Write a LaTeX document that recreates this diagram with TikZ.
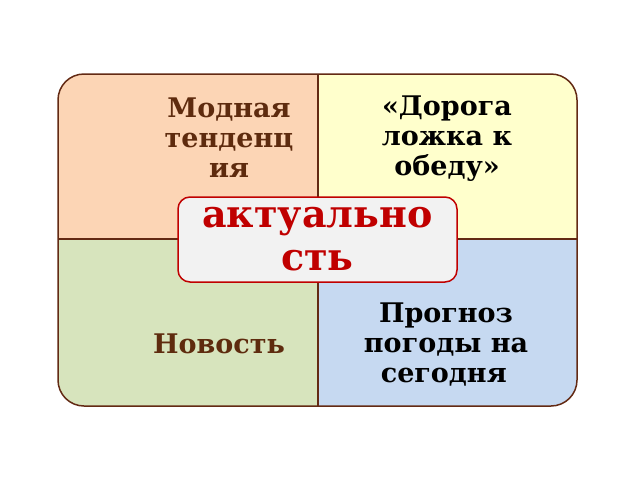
\documentclass[tikz,border=0pt]{standalone}
\usepackage{fontspec}
\setmainfont{DejaVu Serif}
\definecolor{frame}{HTML}{632A14}
\definecolor{textbrown}{HTML}{5E2B0E}
\definecolor{peach}{HTML}{FCD5B5}
\definecolor{lemon}{HTML}{FFFFCC}
\definecolor{sage}{HTML}{D7E4BD}
\definecolor{sky}{HTML}{C6D9F1}
\definecolor{crimson}{HTML}{C00000}
\definecolor{paper}{HTML}{F2F2F2}
\begin{document}
\begin{tikzpicture}[x=1pt,y=-1pt,
  lbl/.style={font=\bfseries\fontsize{27}{30}\selectfont, align=center, anchor=base, inner sep=0pt},
  keyword/.style={font=\bfseries\fontsize{38}{42}\selectfont, align=center, text=crimson,
    fill=paper, draw=crimson, line width=1.5pt, rounded corners=12pt,
    minimum width=279pt, minimum height=85pt, inner sep=0pt}]
\useasboundingbox (0,0) rectangle (640,480);
% quadrants
\begin{scope}
\clip[rounded corners=26pt] (58,74) rectangle (577,406);
\fill[peach] (58,74) rectangle (318,239);
\fill[lemon] (318,74) rectangle (577,239);
\fill[sage] (58,239) rectangle (318,406);
\fill[sky] (318,239) rectangle (577,406);
\end{scope}
% frame and cross
\draw[frame, line width=1.5pt, rounded corners=26pt] (58,74) rectangle (577,406);
\coordinate (top) at (318,74);
\coordinate (bot) at (318,406);
\coordinate (left) at (58,239);
\coordinate (right) at (577,239);
\draw[frame, line width=1.5pt] (top) -- (bot);
\draw[frame, line width=1.5pt] (left) -- (right);
% labels (base = last line)
\node[lbl, text=textbrown] (trend) at (229,177) {Модная\\тенденц\\ия};
\node[lbl] (spoon) at (447,175) {«Дорога\\ложка к\\обеду»};
\node[lbl, text=textbrown] (news) at (219,353) {Новость};
\node[lbl] (weather) at (446,382) {Прогноз\\погоды на\\сегодня\hphantom{\,}};
% centre
\node[keyword] (topic) at (317.5,239.5) {актуально\\\raisebox{-1pt}{сть}};
\end{tikzpicture}
\end{document}
